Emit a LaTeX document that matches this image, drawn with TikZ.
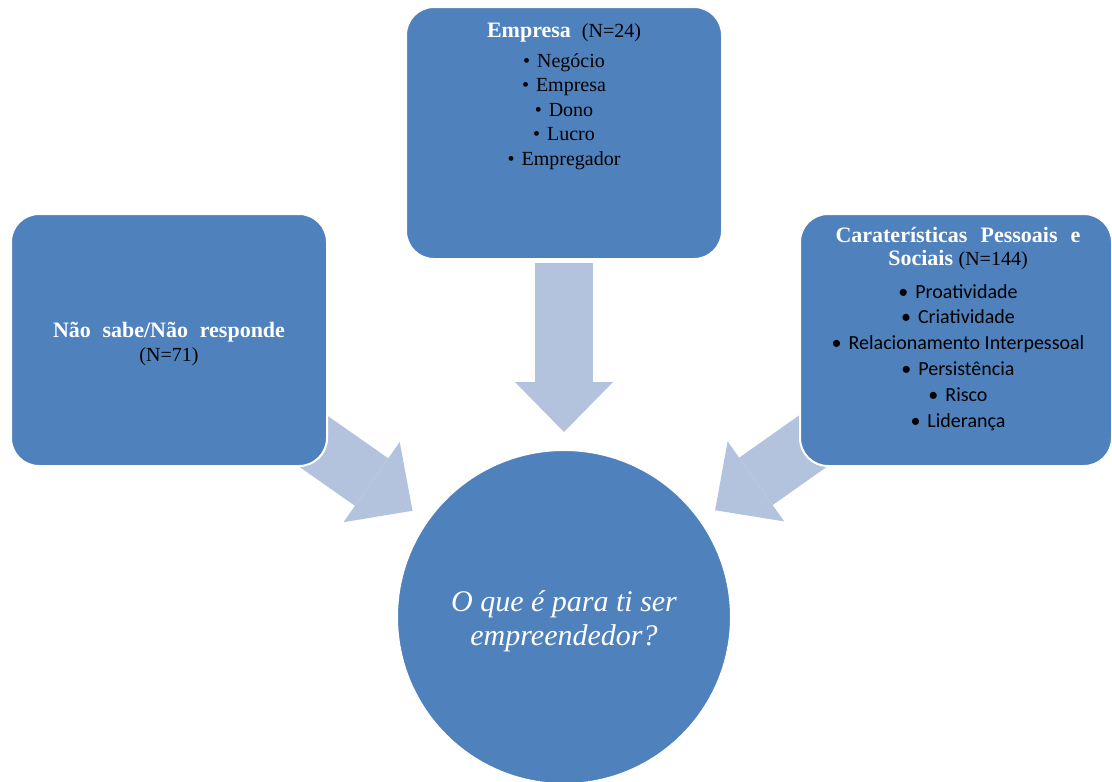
\documentclass[tikz,border=0pt]{standalone}
\usepackage{fontspec}
\setmainfont{Liberation Serif}
\newfontfamily\calibri{Carlito}
\usepackage{xcolor}
\usepackage{tikz}
\usetikzlibrary{arrows.meta,positioning,backgrounds,calc}

\definecolor{boxblue}{RGB}{79,129,189}
\definecolor{arrowblue}{RGB}{179,194,221}
\newcommand{\respcount}[1]{{\mdseries\fontsize{20}{24}\selectfont\color{black}(N=#1)}}

\begin{document}
\begin{tikzpicture}[
    x=1pt, y=-1pt,
    box/.style={rectangle, draw=white, line width=2pt, fill=boxblue, rounded corners=28pt, minimum width=316pt, minimum height=252pt, inner sep=0pt},
    hub/.style={circle, draw=white, line width=2pt, fill=boxblue, minimum size=334pt, inner sep=0pt, align=center, text=white, font=\itshape\fontsize{30}{34}\selectfont},
    title/.style={anchor=base, text=white, inner sep=0pt, font=\bfseries\fontsize{22}{26}\selectfont},
    item/.style={anchor=base, text=black, inner sep=0pt, font=\fontsize{20}{24}\selectfont},
    flow/.style={draw=arrowblue, line width=58pt, -{Triangle[width=98pt, length=50pt, line width=0pt]}, shorten <=130pt, shorten >=17pt}
]
    \useasboundingbox (0,0) rectangle (1112,782);

    % Nodes
    \node [box] (empresa) at (564,133) {};
    \node [box] (naosabe) at (169,340) {};
    \node [box, minimum width=312pt] (pessoais) at (956,340) {};
    \node [hub] (centro) at (564,617) {\rule{0pt}{30pt}O que é para ti ser\\empreendedor?};

    % Texts
    \node [title] (empresatitle) at (564,37) {Empresa\ \ \respcount{24}};
    \foreach \word [count=\i from 0] in {Negócio, Empresa, Dono, Lucro, Empregador}
        \node [item] (empresa\i) at (564,{67+24.5*\i}) {•\hspace{7pt}\word};

    \node [title] (naosabetitle) at (169,337) {\makebox[232pt][s]{Não sabe/Não responde}};
    \node [item] (naosabecount) at (169,361) {(N=71)};

    \node [title] (pessoaistitle) at (958,242) {\makebox[245pt][s]{Caraterísticas Pessoais e}};
    \node [title] (pessoaissub) at (958,265) {Sociais \respcount{144}};
    \foreach \word [count=\i from 0] in {Proatividade, Criatividade, Relacionamento Interpessoal, Persistência, Risco, Liderança}
        \node [item, font=\calibri\fontsize{20}{24}\selectfont] (pessoais\i) at (958,{298+25.8*\i}) {•\hspace{7pt}\word};

    % Edges
    \begin{scope}[on background layer]
        \draw [flow] (empresa.center) -- (centro);
        \draw [flow] (naosabe.center) -- (centro);
        \draw [flow] (pessoais.center) -- (centro);
    \end{scope}
\end{tikzpicture}
\end{document}
